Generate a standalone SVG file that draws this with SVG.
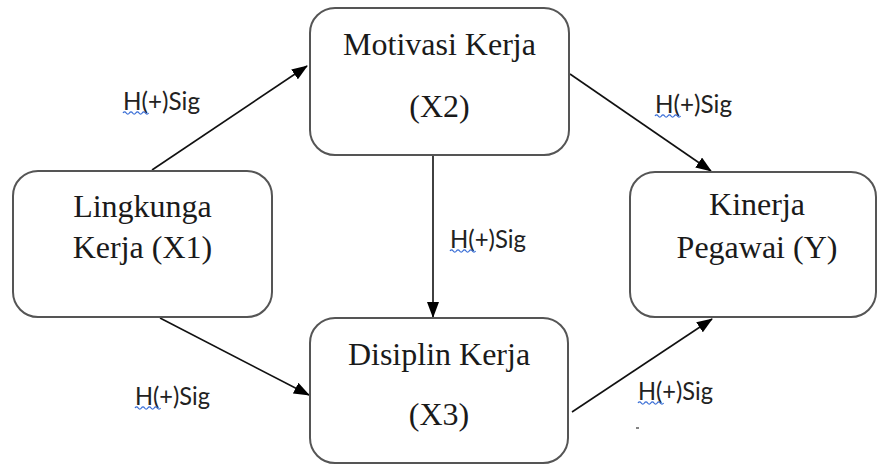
<svg xmlns="http://www.w3.org/2000/svg" width="878" height="464" viewBox="0 0 878 464">
  <style>
    .box { fill: #ffffff; stroke: #555555; stroke-width: 2; }
    .nt { font-family: 'Liberation Serif', Tinos, 'Times New Roman', 'DejaVu Serif', serif; font-size: 32px; fill: #1a1a1a; text-anchor: middle; }
    .edge { stroke: #111111; stroke-width: 1.6; fill: none; marker-end: url(#arrow); }
    .lbl { font-family: Lato, 'Open Sans', 'Liberation Sans', sans-serif; font-size: 24.5px; fill: #222222; }
    .squig { stroke: #3b6fd6; stroke-width: 1.3; fill: none; }
  </style>
  <defs>
    <marker id="arrow" viewBox="0 0 16 12" refX="15" refY="6" markerWidth="16" markerHeight="12" markerUnits="userSpaceOnUse" orient="auto">
      <path d="M0,0 L16,6 L0,12 Z" fill="#000000"/>
    </marker>
    <path id="wave" d="M0,0 q1.6,-2.4 3.2,0 t3.2,0 t3.2,0 t3.2,0 t3.2,0 t3.2,0 t3.2,0 t3.2,0"/>
  </defs>

  <rect width="878" height="464" fill="#ffffff"/>

  <g id="connectors">
    <line class="edge" x1="152" y1="170" x2="307" y2="66"/>
    <line class="edge" x1="570" y1="74" x2="711" y2="171"/>
    <line class="edge" x1="433" y1="155" x2="433" y2="317"/>
    <line class="edge" x1="160" y1="318" x2="309" y2="395"/>
    <line class="edge" x1="572" y1="412" x2="712" y2="319"/>
  </g>

  <g id="node-x1">
    <rect class="box" x="13" y="171" width="259" height="146" rx="25"/>
    <text class="nt" font-family="Liberation Serif" x="142.5" y="217">Lingkunga</text>
    <text class="nt" font-family="Liberation Serif" x="142.5" y="258">Kerja (X1)</text>
  </g>

  <g id="node-x2">
    <rect class="box" x="310" y="8" width="259" height="147" rx="25"/>
    <text class="nt" font-family="Liberation Serif" x="439.5" y="55">Motivasi Kerja</text>
    <text class="nt" font-family="Liberation Serif" x="439.5" y="117">(X2)</text>
  </g>

  <g id="node-x3">
    <rect class="box" x="310" y="318" width="258" height="145" rx="25"/>
    <text class="nt" font-family="Liberation Serif" x="439" y="365">Disiplin Kerja</text>
    <text class="nt" font-family="Liberation Serif" x="439" y="425">(X3)</text>
  </g>

  <g id="node-y">
    <rect class="box" x="630" y="172" width="246" height="145" rx="25"/>
    <text class="nt" font-family="Liberation Serif" x="757" y="215">Kinerja</text>
    <text class="nt" font-family="Liberation Serif" x="757" y="258">Pegawai (Y)</text>
  </g>

  <g id="labels">
    <text class="lbl" x="123" y="110" textLength="77" lengthAdjust="spacingAndGlyphs">H(+)Sig</text>
    <use href="#wave" class="squig" x="123" y="113"/>
    <text class="lbl" x="655" y="113" textLength="77" lengthAdjust="spacingAndGlyphs">H(+)Sig</text>
    <use href="#wave" class="squig" x="655" y="116"/>
    <text class="lbl" x="450" y="248" textLength="76" lengthAdjust="spacingAndGlyphs">H(+)Sig</text>
    <use href="#wave" class="squig" x="450" y="251"/>
    <text class="lbl" x="135" y="405" textLength="75" lengthAdjust="spacingAndGlyphs">H(+)Sig</text>
    <use href="#wave" class="squig" x="135" y="408"/>
    <text class="lbl" x="638" y="400" textLength="75" lengthAdjust="spacingAndGlyphs">H(+)Sig</text>
    <use href="#wave" class="squig" x="638" y="403"/>
    <line x1="636" y1="428" x2="639" y2="428" stroke="#333333" stroke-width="1.2"/>
  </g>
</svg>
